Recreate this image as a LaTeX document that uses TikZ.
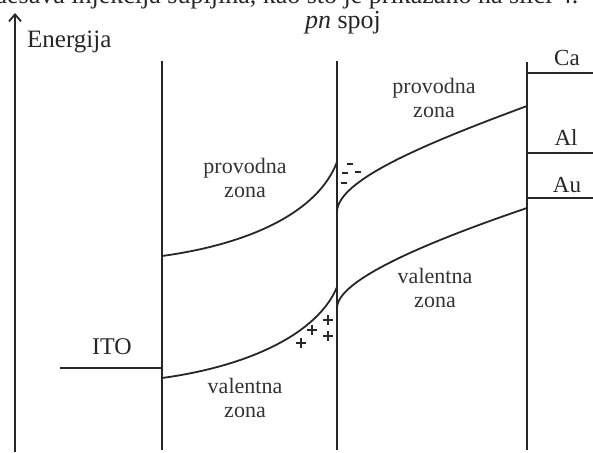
\documentclass[tikz,border=0pt]{standalone}
\usepackage{fontspec}
\setmainfont{Liberation Serif}
\usetikzlibrary{arrows.meta}

\tikzset{
  band/.style={line width=1.8pt,draw=black!85},
  zonelbl/.style={font=\fontsize{22}{24}\selectfont,align=center,text=black!80},
  metal/.style={font=\fontsize{23}{25}\selectfont,anchor=base,text=black!85},
  charge/.style={line width=1.5pt,draw=black!85},
}

\begin{document}
\begin{tikzpicture}[x=1pt,y=-1pt]
  \useasboundingbox (0,0) rectangle (593,452);
  % cut-off line of the page above
  \begin{scope}
    \clip (0,0) rectangle (593,452);
    \node[font=\fontsize{26}{28}\selectfont,anchor=base west,inner sep=0pt,text=black!85] (pagetxt) at (-6,4) {dešava injekcija šupljina, kao što je prikazano na slici 4.};
  \end{scope}

  % energy axis
  \coordinate (axbot) at (15,452);
  \coordinate (axtop) at (15,13);
  \draw[band,-{Straight Barb[length=7pt,width=12pt]}] (axbot) -- (axtop);
  \node[font=\fontsize{25}{27}\selectfont,anchor=base west,inner sep=0pt,text=black!85] (energy) at (27,48) {Energija};
  \node[font=\fontsize{26}{28}\selectfont,anchor=base,inner sep=0pt,text=black!85] (pn) at (343,28.5) {\textit{pn} spoj};

  % interfaces
  \draw[band] (162,61) -- (162,450);
  \draw[band] (337,61) -- (337,450);
  \draw[band] (527,62) -- (527,450);

  % electrode levels
  \draw[band] (60,368) -- (162,368);
    \node[metal,font=\fontsize{24}{26}\selectfont] (ito) at (112,354) {ITO};
  \draw[band] (527,73) -- (593,73);
    \node[metal] (ca) at (567,65) {Ca};
  \draw[band] (527,153) -- (593,153);
    \node[metal] (al) at (566,145) {Al};
  \draw[band] (527,198) -- (593,198);
    \node[metal] (au) at (567,192) {Au};

  % bands
  \draw[band] (162,256) .. controls (250,244) and (318,212) .. (337,162);
  \draw[band] (337,212) .. controls (337,180) and (427,143) .. (527,106);
  \draw[band] (162,378) .. controls (250,366) and (318,333) .. (337,287);
  \draw[band] (337,308) .. controls (337,280) and (427,242) .. (527,208);

  \node[zonelbl] (cbl) at (245,177.5) {provodna\\zona};
  \node[zonelbl] (cbr) at (434,97.5) {provodna\\zona};
  \node[zonelbl] (vbr) at (435,287.5) {valentna\\zona};
  \node[zonelbl] (vbl) at (245,397.5) {valentna\\zona};

  % space charge
  \foreach \x/\y in {347/164,342/173,355/172,341/183}
    \draw[charge] (\x,\y) -- ++(6,0);
  \foreach \x/\y in {328/320,312/330,328/336,301/343}
    \draw[charge] (\x-5,\y) -- (\x+5,\y) (\x,\y-5) -- (\x,\y+5);
\end{tikzpicture}
\end{document}
